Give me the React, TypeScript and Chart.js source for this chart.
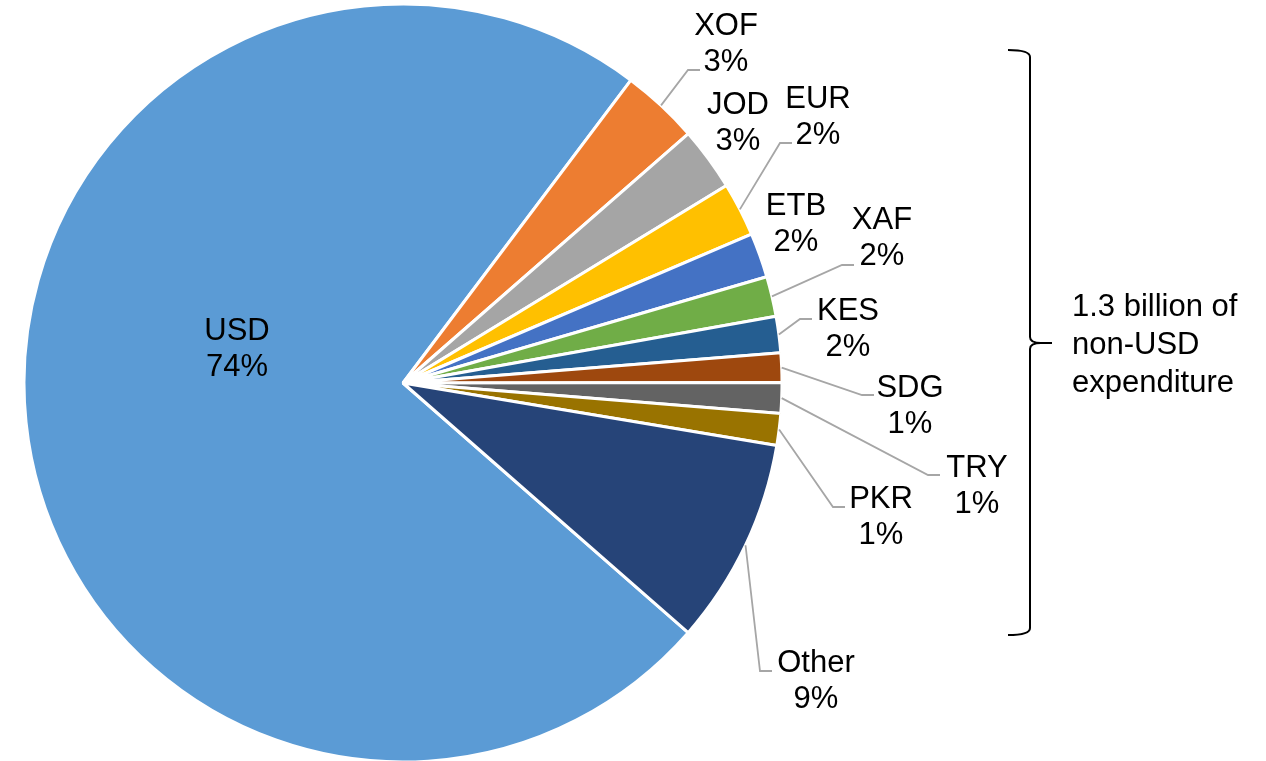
import React, { useEffect, useRef } from "react";
import { Chart, registerables } from "chart.js";

Chart.register(...registerables);

// ---- data ----
const currencies = ["USD", "XOF", "JOD", "EUR", "ETB", "XAF", "KES", "SDG", "TRY", "PKR", "Other"];
const shares = [73.75, 3.3, 2.7, 2.3, 1.9, 1.7, 1.55, 1.25, 1.3, 1.35, 8.8];
const sliceColors = [
  "#5B9BD5", "#ED7D31", "#A5A5A5", "#FFC000", "#4472C4", "#70AD47",
  "#255E91", "#9E480E", "#636363", "#997300", "#264478",
];
const bracketText = ["1.3 billion of", "non-USD", "expenditure"];

// ---- label layout (text block position: centre x, centre of first line; optional elbow of leader) ----
const labelLayout: { x: number; y: number; elbow?: [number, number] }[] = [
  { x: 237, y: 329 },
  { x: 726, y: 24, elbow: [688, 70] },
  { x: 738, y: 103 },
  { x: 818, y: 97, elbow: [780, 143] },
  { x: 796, y: 204 },
  { x: 882, y: 218, elbow: [842, 265] },
  { x: 848, y: 309, elbow: [800, 319] },
  { x: 910, y: 386, elbow: [862, 395] },
  { x: 977, y: 466, elbow: [928, 475] },
  { x: 881, y: 497, elbow: [833, 507] },
  { x: 816, y: 661, elbow: [760, 671] },
];

const FONT_SIZE = 31;
const FONT = `${FONT_SIZE}px "Liberation Sans", Arial, sans-serif`;
const LINE_GAP = 36;

const labelPlugin = {
  id: "pieLabels",
  afterDraw(chart: any) {
    const ctx = chart.ctx as CanvasRenderingContext2D;
    const meta = chart.getDatasetMeta(0);
    const data = chart.data.datasets[0].data as number[];
    const total = data.reduce((a, b) => a + b, 0);
    ctx.save();
    // leader lines
    ctx.strokeStyle = "#A6A6A6";
    ctx.lineWidth = 1.8;
    meta.data.forEach((arc: any, i: number) => {
      const L = labelLayout[i];
      if (!L || !L.elbow) return;
      const p = arc.getProps(["x", "y", "startAngle", "endAngle", "outerRadius"], true);
      const mid = (p.startAngle + p.endAngle) / 2;
      const sx = p.x + Math.cos(mid) * p.outerRadius;
      const sy = p.y + Math.sin(mid) * p.outerRadius;
      ctx.beginPath();
      ctx.moveTo(sx, sy);
      ctx.lineTo(L.elbow[0], L.elbow[1]);
      ctx.lineTo(L.elbow[0] + 12, L.elbow[1]);
      ctx.stroke();
    });
    // texts
    ctx.fillStyle = "#000";
    ctx.font = FONT;
    ctx.textAlign = "center";
    ctx.textBaseline = "alphabetic";
    const capHalf = FONT_SIZE * 0.358;
    meta.data.forEach((_arc: any, i: number) => {
      const L = labelLayout[i];
      if (!L) return;
      const pct = Math.round((data[i] / total) * 100) + "%";
      ctx.fillText(String(chart.data.labels[i]), L.x, L.y + capHalf);
      ctx.fillText(pct, L.x, L.y + LINE_GAP + capHalf);
    });
    // bracket
    ctx.strokeStyle = "#000";
    ctx.lineWidth = 2;
    ctx.beginPath();
    ctx.moveTo(1008, 50);
    ctx.quadraticCurveTo(1030, 50, 1030, 57);
    ctx.lineTo(1030, 337);
    ctx.quadraticCurveTo(1030, 343, 1041, 343);
    ctx.lineTo(1052, 343);
    ctx.moveTo(1041, 343);
    ctx.quadraticCurveTo(1030, 343, 1030, 349);
    ctx.lineTo(1030, 628);
    ctx.quadraticCurveTo(1030, 635, 1008, 635);
    ctx.stroke();
    ctx.textAlign = "left";
    bracketText.forEach((t, k) => {
      ctx.fillText(t, 1072, 305 + k * 38 + capHalf);
    });
    ctx.restore();
  },
};

export default function App() {
  const ref = useRef<HTMLCanvasElement | null>(null);
  useEffect(() => {
    document.body.style.margin = "0";
    if (!ref.current) return;
    const chart = new Chart(ref.current, {
      type: "pie",
      data: {
        labels: currencies,
        datasets: [
          {
            data: shares,
            backgroundColor: sliceColors,
            borderColor: "#FFFFFF",
            borderWidth: 3,
          },
        ],
      },
      options: {
        animation: false,
        responsive: true,
        maintainAspectRatio: false,
        rotation: 131.2,
        radius: 379,
        layout: { padding: { left: 25, right: 485, top: 5, bottom: 0 } },
        plugins: {
          legend: { display: false },
          tooltip: { enabled: false },
        },
      },
      plugins: [labelPlugin],
    });
    return () => chart.destroy();
  }, []);
  return (
    <div style={{ position: "absolute", left: 0, top: 0, width: 1266, height: 761, background: "#fff" }}>
      <canvas ref={ref} />
    </div>
  );
}
